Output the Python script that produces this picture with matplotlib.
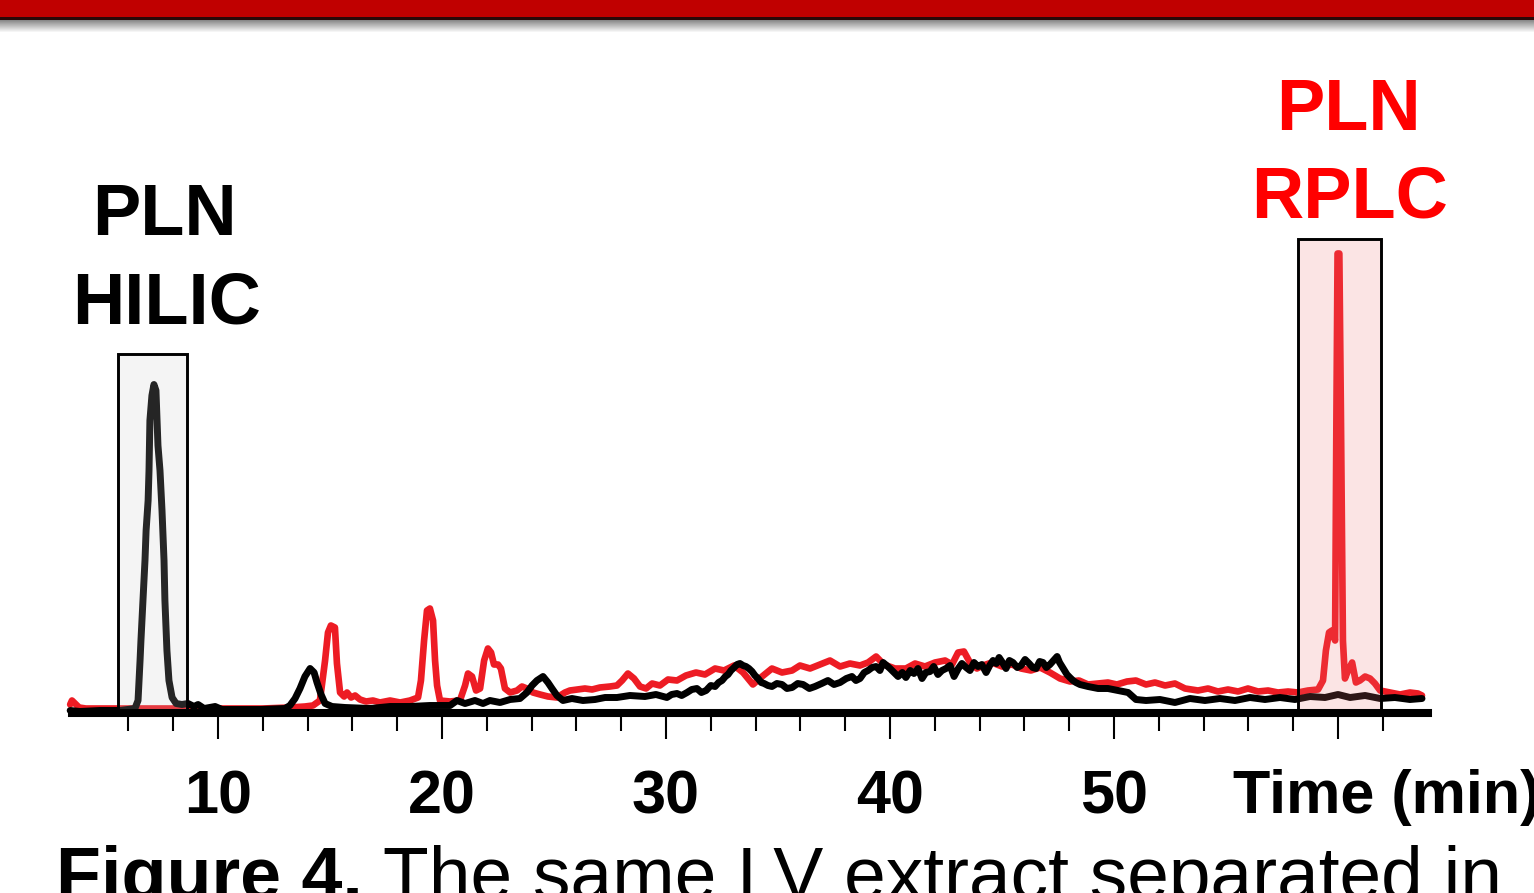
import matplotlib
matplotlib.use('Agg')
import matplotlib.pyplot as plt
from matplotlib.patches import Rectangle

plt.rcParams['font.family'] = ['Liberation Sans', 'DejaVu Sans']

# ---------------- data ----------------
red_time = [3.40, 3.48, 3.62, 3.80, 4.10, 5.00, 6.50, 8.50, 10.50, 12.00,
            13.21, 13.88, 14.24, 14.55, 14.78, 14.91, 15.04, 15.22, 15.31, 15.45,
            15.63, 15.76, 15.94, 16.12, 16.34, 16.61, 16.92, 17.23, 17.68, 18.13,
            18.57, 18.93, 19.06, 19.20, 19.33, 19.46, 19.60, 19.69, 19.78, 19.91,
            20.36, 20.80, 21.03, 21.16, 21.34, 21.52, 21.70, 21.88, 22.05, 22.19,
            22.32, 22.50, 22.63, 22.81, 23.04, 23.35, 23.57, 23.79, 24.06, 24.38,
            24.73, 25.13, 25.49, 25.71, 26.03, 26.38, 26.70, 27.05, 27.50, 27.81,
            28.04, 28.30, 28.57, 28.84, 29.11, 29.38, 29.73, 30.09, 30.49, 30.89,
            31.34, 31.74, 32.19, 32.59, 33.04, 33.44, 33.88, 34.29, 34.73, 35.18,
            35.63, 35.98, 36.43, 36.88, 37.32, 37.77, 38.21, 38.66, 39.02, 39.38,
            39.73, 40.22, 40.71, 41.12, 41.56, 42.01, 42.46, 42.77, 43.04, 43.30,
            43.57, 43.88, 44.15, 44.55, 45.00, 45.45, 45.85, 46.29, 46.70, 47.14,
            47.59, 48.04, 48.44, 48.84, 49.29, 49.73, 50.13, 50.58, 50.98, 51.43,
            51.83, 52.28, 52.72, 53.17, 53.75, 54.20, 54.64, 55.09, 55.54, 55.98,
            56.43, 56.88, 57.32, 57.77, 58.21, 58.66, 59.11, 59.33, 59.46, 59.60,
            59.73, 59.87, 59.93, 59.98, 60.06, 60.13, 60.22, 60.31, 60.45, 60.63,
            60.80, 60.98, 61.21, 61.43, 61.65, 61.88, 62.32, 62.77, 63.21, 63.57,
            63.75]
red_signal = [8, 12, 9, 5, 4, 4, 4, 4, 4, 4,
              5, 6, 7, 12, 52, 80, 87, 85, 49, 20,
              16, 20, 15, 17, 13, 11, 12, 10, 12, 10,
              12, 15, 32, 72, 102, 104, 92, 52, 27, 12,
              11, 12, 27, 39, 36, 22, 24, 52, 64, 60,
              48, 48, 44, 24, 20, 22, 26, 24, 20, 18,
              16, 15, 20, 22, 23, 24, 23, 25, 26, 27,
              32, 39, 34, 26, 24, 29, 27, 33, 32, 37,
              40, 38, 44, 42, 47, 40, 28, 36, 44, 40,
              42, 47, 44, 48, 52, 46, 49, 47, 50, 56,
              48, 44, 44, 49, 46, 50, 52, 48, 60, 61,
              50, 44, 47, 50, 46, 48, 44, 42, 45, 40,
              34, 31, 32, 28, 29, 30, 28, 31, 32, 28,
              30, 27, 29, 24, 22, 24, 21, 23, 21, 24,
              21, 22, 20, 21, 20, 22, 23, 32, 62, 80,
              82, 72, 300, 459, 459, 300, 72, 34, 42, 50,
              30, 32, 36, 34, 29, 22, 20, 18, 20, 19,
              17]

black_time = [3.40, 3.84, 4.73, 5.63, 6.29, 6.43, 6.52, 6.56, 6.65, 6.74,
              6.79, 6.88, 6.92, 6.96, 7.05, 7.14, 7.23, 7.28, 7.32, 7.41,
              7.50, 7.59, 7.63, 7.72, 7.81, 7.95, 8.13, 8.39, 8.66, 8.93,
              9.11, 9.38, 9.87, 10.18, 10.98, 11.88, 12.99, 13.21, 13.44, 13.66,
              13.88, 14.11, 14.29, 14.42, 14.60, 14.78, 15.09, 15.67, 16.79, 17.68,
              18.57, 19.46, 20.36, 20.67, 21.03, 21.47, 21.83, 22.14, 22.59, 23.04,
              23.48, 23.79, 24.02, 24.24, 24.51, 24.73, 24.91, 25.13, 25.40, 25.80,
              26.29, 26.83, 27.28, 27.81, 28.39, 29.06, 29.55,
              30.04, 30.25, 30.49, 30.70, 30.94, 31.15, 31.38, 31.58, 31.79, 32.00,
              32.19, 32.35, 32.50, 32.65, 32.77, 32.90, 33.04, 33.17, 33.30, 33.44,
              33.57, 33.70, 33.84, 33.97, 34.11, 34.25, 34.38, 34.55, 34.73, 34.95,
              35.18, 35.40, 35.63, 35.88, 36.12, 36.40, 36.65, 36.95, 37.23, 37.50,
              37.77, 38.05, 38.30, 38.48, 38.66, 38.85, 39.02, 39.20, 39.38, 39.55,
              39.69, 39.85, 40.00, 40.18, 40.36, 40.55, 40.71, 40.90, 41.07, 41.25,
              41.43, 41.60, 41.79, 41.95, 42.14, 42.32, 42.50, 42.68, 42.86, 43.05,
              43.21, 43.40, 43.57, 43.75, 43.93, 44.10, 44.29, 44.45, 44.60, 44.75,
              44.87, 45.02, 45.18, 45.33, 45.49, 45.68, 45.85, 46.03, 46.21, 46.37,
              46.52, 46.68, 46.83, 46.98, 47.14, 47.30, 47.46, 47.57, 47.68, 47.79,
              47.90, 48.03, 48.17, 48.30, 48.48,
              48.84, 49.29, 49.73, 50.18, 50.63, 50.98, 51.43, 52.05, 52.72, 53.39,
              54.06, 54.73, 55.40, 56.07, 56.74, 57.41, 58.08, 58.75, 59.42, 60.00,
              60.54, 61.21, 61.88, 62.54, 63.21, 63.75]
black_signal = [2, 1, 2, 2, 4, 12, 52, 72, 112, 152,
                182, 212, 242, 292, 317, 328, 322, 292, 267, 242,
                202, 152, 112, 62, 32, 15, 9, 8, 9, 6,
                8, 4, 6, 3, 3, 3, 4, 7, 14, 24,
                36, 44, 40, 30, 18, 9, 6, 5, 4, 6,
                6, 7, 7, 12, 9, 12, 9, 12, 10, 13,
                14, 20, 27, 32, 36, 30, 24, 17, 12, 14,
                12, 13, 15, 15, 17, 16, 18,
                15, 18, 19, 17, 20, 23, 24, 20, 22, 27,
                26, 30, 32, 36, 38, 42, 45, 48, 49, 47,
                46, 44, 41, 37, 34, 30, 29, 27, 26, 29,
                28, 24, 25, 29, 28, 24, 26, 29, 32, 28,
                30, 34, 36, 32, 34, 40, 42, 45, 46, 42,
                50, 47, 44, 40, 36, 40, 35, 42, 39, 44,
                34, 40, 41, 46, 38, 42, 44, 47, 36, 44,
                49, 45, 42, 50, 46, 48, 40, 47, 52, 49,
                55, 50, 44, 52, 50, 45, 47, 53, 49, 45,
                44, 51, 50, 45, 48, 52, 56, 50, 46, 42,
                38, 35, 32, 30, 28,
                26, 24, 24, 22, 20, 13, 12, 13, 10, 14,
                12, 14, 12, 15, 13, 15, 13, 16, 15, 18,
                15, 17, 14, 15, 13, 14]

major_ticks = [10, 20, 30, 40, 50, 60]
major_labels = ['10', '20', '30', '40', '50', '']
minor_ticks = [6, 8, 12, 14, 16, 18, 22, 24, 26, 28, 32, 34, 36, 38,
               42, 44, 46, 48, 52, 54, 56, 58, 62]

hilic_window = (5.54, 8.62)
rplc_window = (58.21, 61.92)
hilic_box_top = 359
rplc_box_top = 474

# ---------------- figure ----------------
W, H = 1534, 893
fig = plt.figure(figsize=(W / 100, H / 100), dpi=100)
fig.patch.set_facecolor('white')


def fx(px):
    return px / W


def fy(py):
    return 1 - py / H


# top banner
fig.patches.append(Rectangle((0, fy(17.5)), 1, 17.5 / H, transform=fig.transFigure,
                             facecolor='#C00000', edgecolor='none', zorder=0))
fig.patches.append(Rectangle((0, fy(20.5)), 1, 3.0 / H, transform=fig.transFigure,
                             facecolor='#2a0808', edgecolor='none', zorder=0))
n_sh = 13
for i in range(n_sh):
    g = 0.50 + 0.50 * (i + 1) / n_sh
    fig.patches.append(Rectangle((0, fy(21.5 + i)), 1, 1.0 / H, transform=fig.transFigure,
                                 facecolor=(g, g, g), edgecolor='none', zorder=0))

ax = fig.add_axes([fx(72), fy(712.5), (1428 - 72) / W, (712.5 - 32.5) / H])
ax.set_xlim(3.482, 64.018)
ax.set_ylim(0, 680)
ax.patch.set_alpha(0)
for s in ['left', 'right', 'top']:
    ax.spines[s].set_visible(False)
ax.spines['bottom'].set_linewidth(5.8)
ax.spines['bottom'].set_color('black')
ax.spines['bottom'].set_capstyle('projecting')
ax.set_yticks([])

ax.set_xticks(major_ticks)
ax.set_xticklabels(major_labels)
ax.set_xticks(minor_ticks, minor=True)
ax.tick_params(axis='x', which='major', length=19, width=1.5, pad=22,
               labelsize=44, color='black', direction='out')
ax.tick_params(axis='x', which='minor', length=12.6, width=1.5, color='black',
               direction='out')
for lab in ax.get_xticklabels():
    lab.set_fontweight('bold')

# traces
ax.plot(red_time, red_signal, color='#ED1C24', lw=4.8, solid_joinstyle='round',
        solid_capstyle='round', clip_on=False, zorder=2)
ax.plot(black_time, black_signal, color='black', lw=5.0, solid_joinstyle='round',
        solid_capstyle='round', clip_on=False, zorder=3)

# highlighted windows (translucent overlay + black frame)
for (x0, x1), top, col in [(hilic_window, hilic_box_top, (198 / 255, 198 / 255, 198 / 255)),
                           (rplc_window, rplc_box_top, (239 / 255, 113 / 255, 113 / 255))]:
    ax.add_patch(Rectangle((x0, 4), x1 - x0, top - 4, facecolor=col, alpha=0.19,
                           edgecolor='none', zorder=4, clip_on=False))
    ax.add_patch(Rectangle((x0, 0), x1 - x0, top, fill=False, edgecolor='black',
                           lw=2.1, zorder=5, clip_on=False))

# labels
fig.text(fx(164), fy(235), 'PLN', ha='center', va='baseline', fontsize=52,
         fontweight='bold', color='black')
fig.text(fx(167), fy(323), 'HILIC', ha='center', va='baseline', fontsize=52,
         fontweight='bold', color='black')
fig.text(fx(1348), fy(130), 'PLN', ha='center', va='baseline', fontsize=52,
         fontweight='bold', color='#FF0000')
fig.text(fx(1350), fy(217), 'RPLC', ha='center', va='baseline', fontsize=52,
         fontweight='bold', color='#FF0000')
fig.text(fx(1233), fy(813), 'Time (min)', ha='left', va='baseline', fontsize=44,
         fontweight='bold', color='black')

# caption (cut by the bottom edge, as in the original)
fig.text(fx(56), fy(899), 'Figure 4.', ha='left', va='baseline', fontsize=53,
         fontweight='bold', color='black')
fig.text(fx(383), fy(899), 'The same LV extract separated in', ha='left',
         va='baseline', fontsize=54, color='black')

fig.savefig('out.png', dpi=100, facecolor='white')
